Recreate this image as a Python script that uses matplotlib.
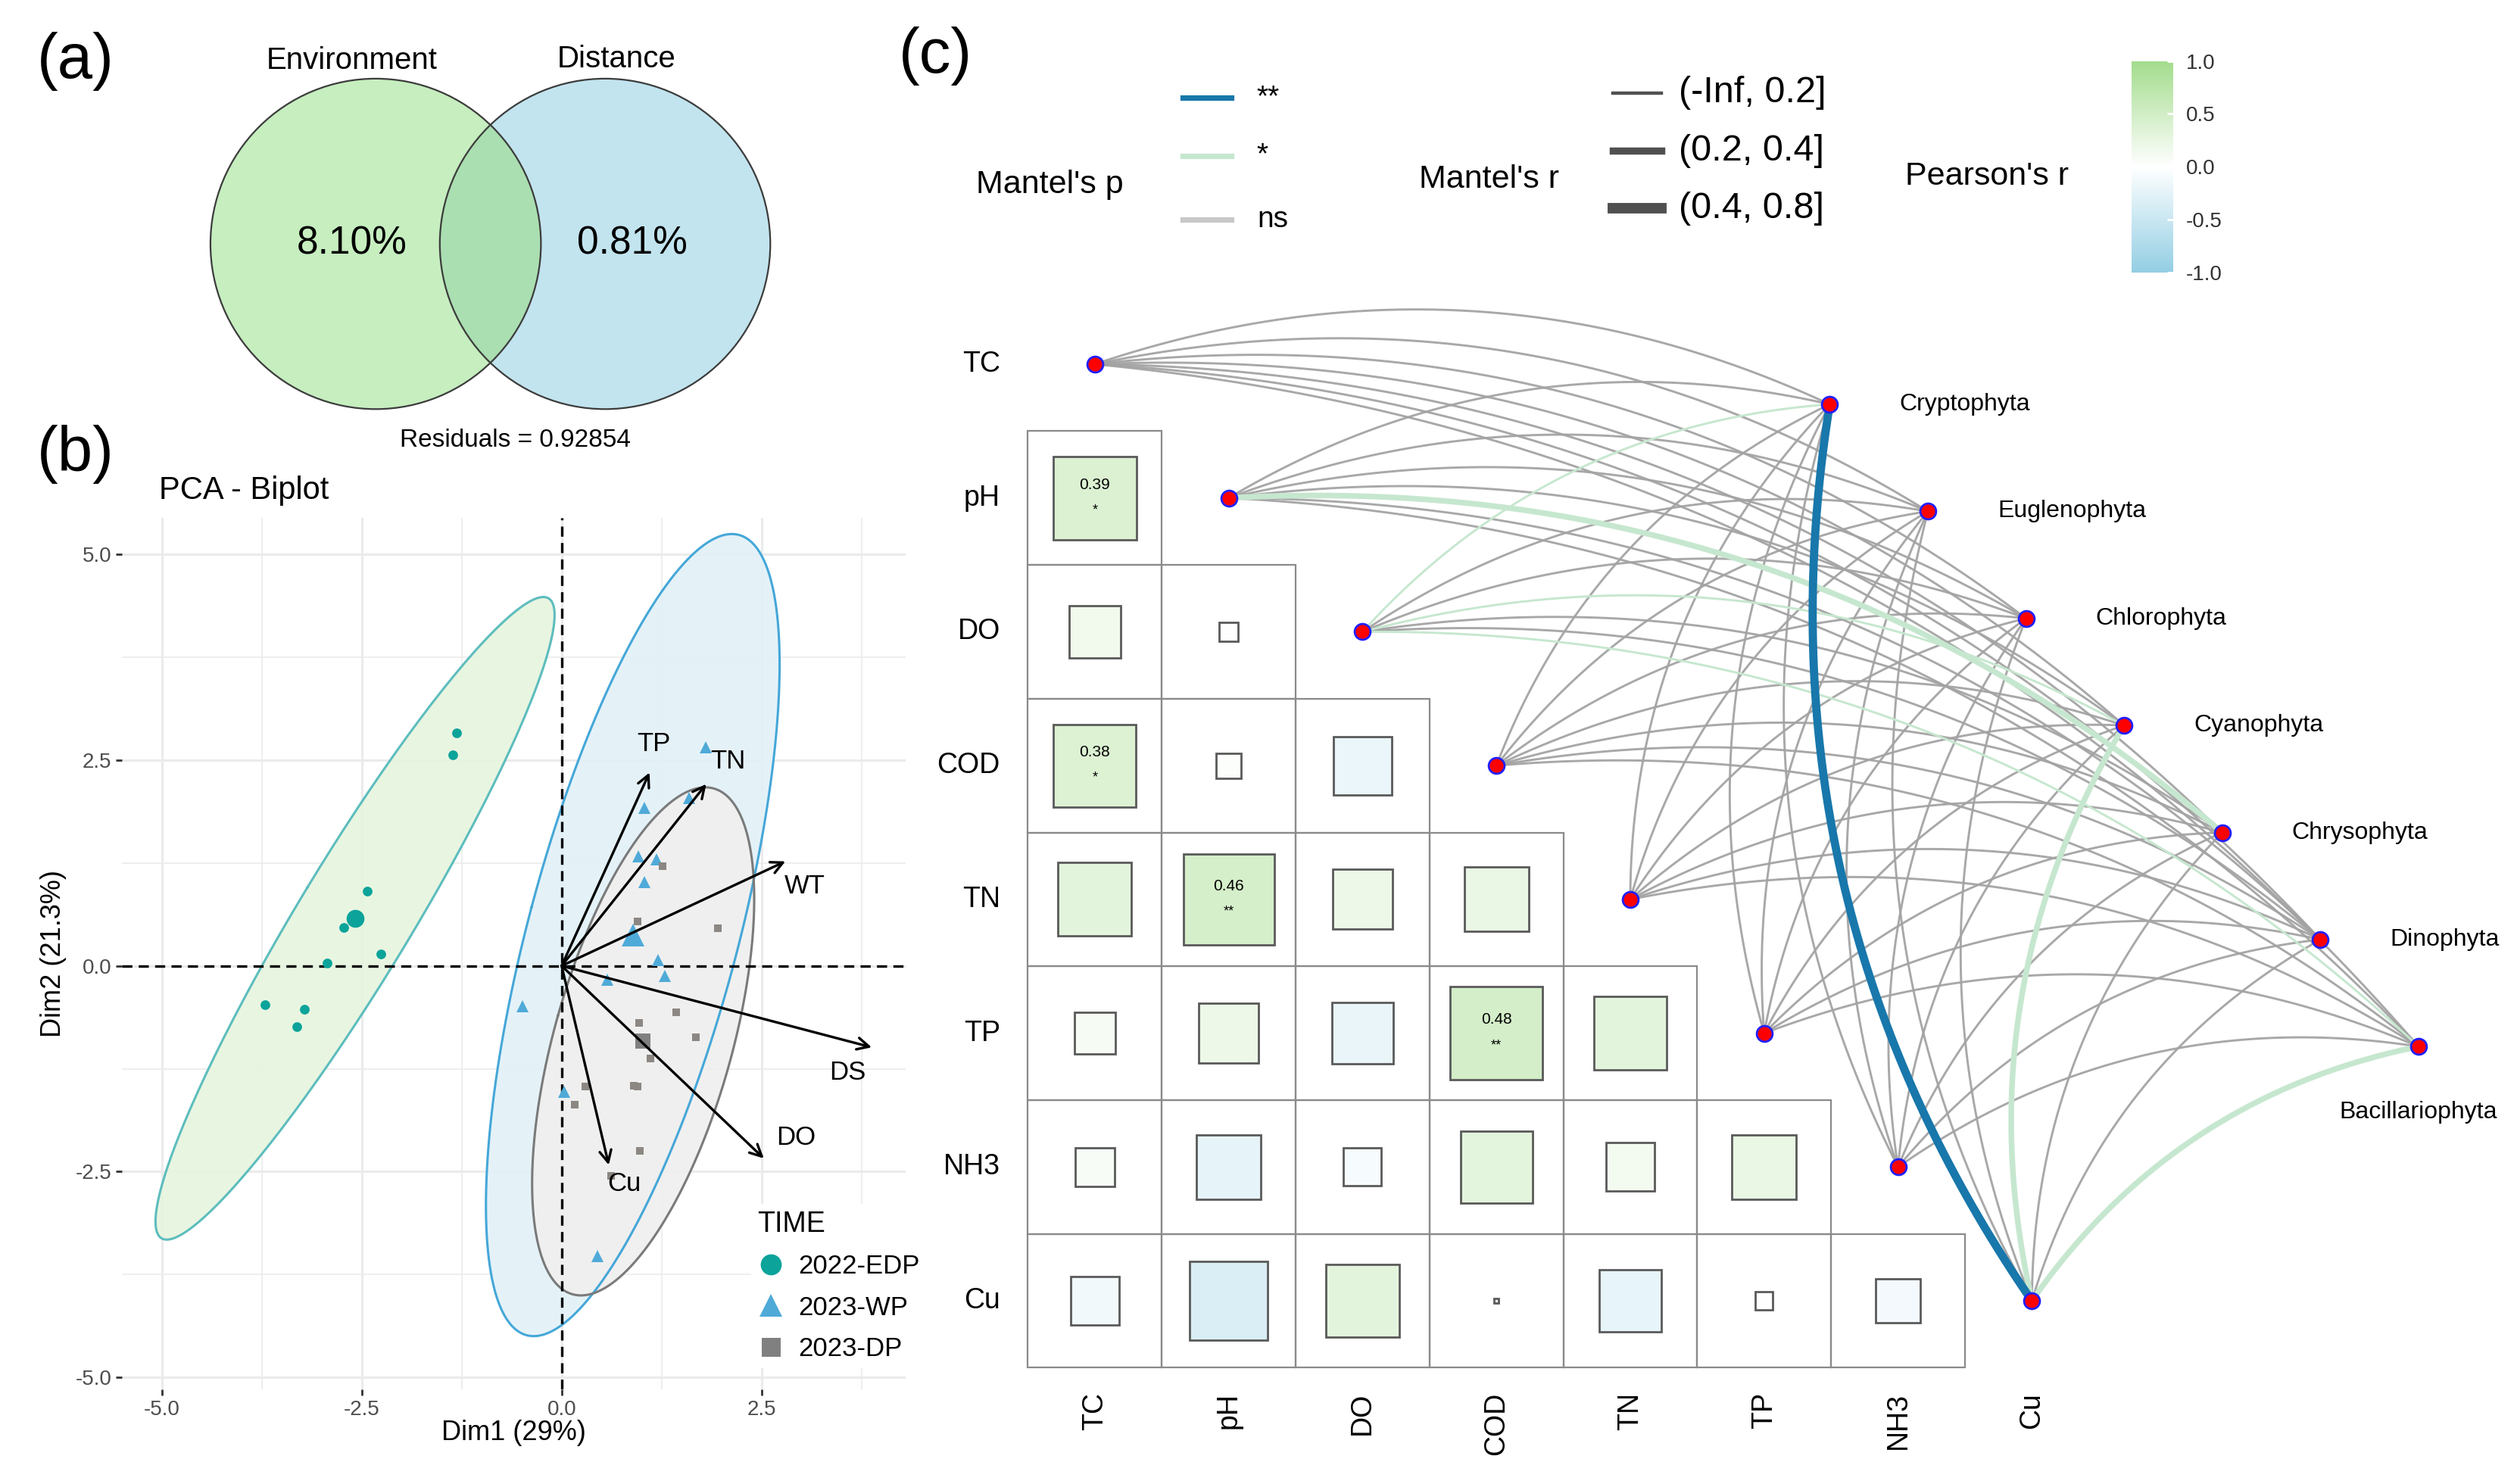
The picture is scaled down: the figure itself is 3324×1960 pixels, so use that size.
import numpy as np
import matplotlib
matplotlib.use("Agg")
import matplotlib.pyplot as plt
from matplotlib.patches import Circle, Rectangle
from matplotlib.lines import Line2D
from matplotlib.colors import LinearSegmentedColormap, Normalize
import matplotlib.cm as cm

plt.rcParams['font.family'] = ['Liberation Sans', 'DejaVu Sans']
plt.rcParams['axes.unicode_minus'] = False

# ------------------------------------------------------------------ data
venn_sets = ["Environment", "Distance"]
venn_values = ["8.10%", "0.81%"]
venn_residual = 0.92854

group_names = ["2022-EDP", "2023-WP", "2023-DP"]
edp_x = [-1.31, -1.36, -2.43, -2.73, -2.26, -2.93, -3.71, -3.22, -3.31]
edp_y = [2.83, 2.56, 0.91, 0.47, 0.14, 0.03, -0.47, -0.53, -0.74]
wp_x = [1.80, 1.04, 1.59, 0.96, 1.19, 1.04, 1.21, 1.29, 0.57, -0.49, 0.03, 0.45]
wp_y = [2.66, 1.92, 2.04, 1.33, 1.29, 1.02, 0.07, -0.12, -0.17, -0.49, -1.53, -3.53]
dp_x = [1.26, 0.95, 1.95, 1.43, 0.97, 1.68, 1.11, 0.30, 0.90, 0.95, 0.16, 0.98, 0.62]
dp_y = [1.21, 0.54, 0.46, -0.56, -0.69, -0.87, -1.13, -1.47, -1.46, -1.47, -1.69, -2.25, -2.55]

pca_vars = ["TP", "TN", "WT", "DS", "DO", "Cu"]
load_x = [1.10, 1.81, 2.80, 3.88, 2.53, 0.59]
load_y = [2.35, 2.21, 1.27, -0.99, -2.34, -2.42]

env_vars = ["TC", "pH", "DO", "COD", "TN", "TP", "NH3", "Cu"]
# lower triangle of Pearson's r (row i, columns 0..i-1)
pearson_r = [
    [],
    [0.39],
    [0.15, 0.02],
    [0.38, 0.035, -0.19],
    [0.30, 0.46, 0.20, 0.23],
    [0.095, 0.20, -0.21, 0.48, 0.30],
    [0.085, -0.23, -0.08, 0.29, 0.13, 0.23],
    [-0.13, -0.34, 0.30, 0.001, -0.22, 0.017, -0.11],
]
pearson_sig = [
    [],
    ["*"],
    ["", ""],
    ["*", "", ""],
    ["", "**", "", ""],
    ["", "", "", "**", ""],
    ["", "", "", "", "", ""],
    ["", "", "", "", "", "", ""],
]

species = ["Cryptophyta", "Euglenophyta", "Chlorophyta", "Cyanophyta",
           "Chrysophyta", "Dinophyta", "Bacillariophyta"]
#                TC    pH    DO   COD   TN    TP   NH3   Cu
mantel_p = [["ns", "ns", "*", "ns", "ns", "ns", "ns", "**"],
            ["ns", "ns", "ns", "ns", "ns", "ns", "ns", "ns"],
            ["ns", "ns", "ns", "ns", "ns", "ns", "ns", "ns"],
            ["ns", "ns", "*", "ns", "ns", "ns", "ns", "*"],
            ["ns", "*", "ns", "ns", "ns", "ns", "ns", "ns"],
            ["ns", "ns", "ns", "ns", "ns", "ns", "ns", "ns"],
            ["ns", "ns", "*", "ns", "ns", "ns", "ns", "*"]]
mantel_r = [[0, 0, 0, 0, 0, 0, 0, 2],
            [0, 0, 0, 0, 0, 0, 0, 0],
            [0, 0, 0, 0, 0, 0, 0, 0],
            [0, 0, 0, 0, 0, 0, 0, 1],
            [0, 1, 0, 0, 0, 0, 0, 0],
            [0, 0, 0, 0, 0, 0, 0, 0],
            [0, 0, 0, 0, 0, 0, 0, 1]]
p_levels = ["**", "*", "ns"]
r_levels = ["(-Inf, 0.2]", "(0.2, 0.4]", "(0.4, 0.8]"]
cbar_ticks = [1.0, 0.5, 0.0, -0.5, -1.0]

# ------------------------------------------------------------------ style
W, H = 1568.0, 925.0           # layout grid (reference pixels / 2.12)
def fx(x): return x / W
def fy(y): return 1 - y / H

p_colors = {"**": "#1877AB", "*": "#C6E7CF", "ns": "#A3A3A3"}
r_widths = [1.05, 2.7, 3.9]
leg_widths = [1.6, 3.4, 5.0]
cmap = LinearSegmentedColormap.from_list("pr", ["#93CEE3", "#FFFFFF", "#A3DC8C"])
norm = Normalize(-1, 1)

fig = plt.figure(figsize=(16.62, 9.8), dpi=200)

# ------------------------------------------------------------------ (a) Venn
ax_a = fig.add_axes([fx(100), fy(300), 440 / W, 300 / H])
ax_a.set_xlim(-1.301, 2.971)
ax_a.set_ylim(-1.437, 1.476)
ax_a.set_aspect("equal")
ax_a.axis("off")
c_dist = 1.388
cl = Circle((0, 0), 1, facecolor="#C6EEBF", edgecolor="none")
cr = Circle((c_dist, 0), 1, facecolor="#C2E4EF", edgecolor="none")
ax_a.add_patch(cl)
ax_a.add_patch(cr)
clip_c = Circle((c_dist, 0), 1, transform=ax_a.transData)
ov = Circle((0, 0), 1, facecolor="#AADFB1", edgecolor="none")
ax_a.add_patch(ov)
ov.set_clip_path(clip_c)
for cx in (0, c_dist):
    ax_a.add_patch(Circle((cx, 0), 1, facecolor="none", edgecolor="#3C3C3C", lw=0.8))
ax_a.text(-0.146, 1.11, venn_sets[0], ha="center", va="center", fontsize=14.5)
ax_a.text(1.456, 1.12, venn_sets[1], ha="center", va="center", fontsize=14.5)
ax_a.text(-0.146, 0.0, venn_values[0], ha="center", va="center", fontsize=18.5)
ax_a.text(1.553, 0.0, venn_values[1], ha="center", va="center", fontsize=18.5)
ax_a.text(0.845, -1.19, "Residuals = %.5f" % venn_residual, ha="center", va="center", fontsize=12)

fig.text(fx(47), fy(38), "(a)", ha="center", va="center", fontsize=30)
fig.text(fx(47), fy(283), "(b)", ha="center", va="center", fontsize=30)
fig.text(fx(583), fy(35), "(c)", ha="center", va="center", fontsize=30)

# ------------------------------------------------------------------ (b) PCA
ax_b = fig.add_axes([fx(76), fy(866), 488 / W, 543 / H])
ax_b.set_xlim(-5.50, 4.30)
ax_b.set_ylim(-5.146, 5.44)
for s in ax_b.spines.values():
    s.set_visible(False)
ax_b.set_xticks([-5.0, -2.5, 0.0, 2.5])
ax_b.set_xticklabels(["-5.0", "-2.5", "0.0", "2.5"])
ax_b.set_yticks([-5.0, -2.5, 0.0, 2.5, 5.0])
ax_b.set_yticklabels(["-5.0", "-2.5", "0.0", "2.5", "5.0"])
ax_b.set_xticks([-3.75, -1.25, 1.25, 3.75], minor=True)
ax_b.set_yticks([-3.75, -1.25, 1.25, 3.75], minor=True)
ax_b.tick_params(which="major", length=3, width=1.0, color="#333333",
                 labelsize=10, labelcolor="#4D4D4D", pad=2)
ax_b.tick_params(which="minor", length=0)
ax_b.grid(which="major", color="#EBEBEB", lw=1.1, zorder=0)
ax_b.grid(which="minor", color="#EBEBEB", lw=0.6, zorder=0)
ax_b.set_axisbelow(True)

def ellipse_pts(x, y, level=0.95, n=200):
    x = np.asarray(x); y = np.asarray(y)
    m = len(x)
    d2 = m - 1
    qf = (d2 / 2.0) * ((1 - level) ** (-2.0 / d2) - 1)
    rad = np.sqrt(2 * qf)
    cov = np.cov(x, y)
    vals, vecs = np.linalg.eigh(cov)
    t = np.linspace(0, 2 * np.pi, n)
    circ = np.vstack([np.cos(t), np.sin(t)])
    pts = vecs @ (np.sqrt(vals)[:, None] * circ) * rad
    return x.mean() + pts[0], y.mean() + pts[1]

groups = [(edp_x, edp_y, "o", "#0BA39A", "#E6F5DF", "#5DBDBD", 4.6, 8.5),
          (wp_x, wp_y, "^", "#4FAAD8", "#E2F1F8", "#45A7D8", 6.0, 11.0),
          (dp_x, dp_y, "s", "#8C8782", "#F0EFEF", "#7A7A7A", 3.8, 7.5)]
ell = [ellipse_pts(g[0], g[1]) for g in groups]
for (ex, ey), g in zip(ell, groups):
    ax_b.fill(ex, ey, color=g[4], alpha=0.92, lw=0, zorder=1)
for (ex, ey), g in zip(ell, groups):
    ax_b.plot(ex, ey, color=g[5], lw=1.1, zorder=2)

ax_b.axhline(0, color="black", lw=1.2, ls=(0, (4, 2.5)), zorder=3)
ax_b.axvline(0, color="black", lw=1.2, ls=(0, (4, 2.5)), zorder=3)

for g in groups:
    ax_b.plot(g[0], g[1], ls="none", marker=g[2], color=g[3], ms=g[6], mew=0, zorder=4)
    ax_b.plot([np.mean(g[0])], [np.mean(g[1])], ls="none", marker=g[2],
              color=g[3] if g[2] != "s" else "#808080", ms=g[7], mew=0, zorder=4)

label_offsets = {"TP": (0.05, 0.35), "TN": (0.27, 0.28), "WT": (0.24, -0.30),
                 "DS": (-0.30, -0.31), "DO": (0.40, 0.25), "Cu": (0.19, -0.23)}
for v, lx, ly in zip(pca_vars, load_x, load_y):
    ax_b.annotate("", xy=(lx, ly), xytext=(0, 0),
                  arrowprops=dict(arrowstyle="->", color="black", lw=1.2,
                                  mutation_scale=14, shrinkA=0, shrinkB=0),
                  zorder=5)
    ox, oy = label_offsets[v]
    ax_b.text(lx + ox, ly + oy, v, ha="center", va="center", fontsize=12.5, zorder=6)

ax_b.text(0.5, -0.05, "Dim1 (29%)", transform=ax_b.transAxes, ha="center", va="center", fontsize=13)
ax_b.text(-0.088, 0.5, "Dim2 (21.3%)", transform=ax_b.transAxes, ha="center", va="center",
          rotation=90, fontsize=13)
fig.text(fx(99), fy(306), "PCA - Biplot", ha="left", va="center", fontsize=15)

handles = [Line2D([], [], ls="none", marker=g[2], color=(g[3] if g[2] != "s" else "#808080"),
                  ms=ms, mew=0) for g, ms in zip(groups, [10, 11, 9])]
leg = ax_b.legend(handles, group_names, title="TIME", loc="upper left",
                  bbox_to_anchor=(0.803, 0.213), frameon=True, facecolor="white",
                  edgecolor="none", framealpha=1, fontsize=12.5, title_fontsize=13.5,
                  handlelength=1.0, handletextpad=0.55, labelspacing=0.62,
                  borderpad=0.25, alignment="left", borderaxespad=0)
leg.set_zorder(7)

# ------------------------------------------------------------------ (c) Mantel network + correlogram
u = 83.4
ax_c = fig.add_axes([fx(560), 0, 1008 / W, 1])
ax_c.set_xlim((560 - 682) / u, (1568 - 682) / u)
ax_c.set_ylim(-(925 - 227) / u, 227 / u)
ax_c.axis("off")
ax_c.patch.set_alpha(0)

n_env = len(env_vars)
for i in range(n_env):
    for j in range(i):
        r = pearson_r[i][j]
        ax_c.add_patch(Rectangle((j - 0.5, -i - 0.5), 1, 1, facecolor="none",
                                 edgecolor="#8A8A8A", lw=0.8, zorder=1))
        side = np.sqrt(abs(r))
        ax_c.add_patch(Rectangle((j - side / 2, -i - side / 2), side, side,
                                 facecolor=cmap(norm(r)), edgecolor="#5A5A5A",
                                 lw=1.0, zorder=2))
        if pearson_sig[i][j]:
            ax_c.text(j, -i + 0.10, "%.2f" % r, ha="center", va="center", fontsize=7.5, zorder=3)
            ax_c.text(j, -i - 0.09, pearson_sig[i][j], ha="center", va="center", fontsize=6.5, zorder=3)

for i, name in enumerate(env_vars):
    ax_c.text(-0.707, -i, name, ha="right", va="center", fontsize=13.5)
    ax_c.text(i, -7.686, name, ha="center", va="top", rotation=90, fontsize=13.5)

sp_start = np.array([5.49, -0.30])
sp_step = np.array([0.733, -0.80])
sp_pos = [sp_start + k * sp_step for k in range(len(species))]
env_pos = [np.array([j, -j], float) for j in range(n_env)]

def curve(p0, p1, frac=0.1, n=80):
    d = p1 - p0
    L = np.hypot(d[0], d[1])
    nrm = np.array([-d[1], d[0]]) / L
    ctrl = (p0 + p1) / 2 + 2 * frac * L * nrm
    t = np.linspace(0, 1, n)[:, None]
    return (1 - t) ** 2 * p0 + 2 * (1 - t) * t * ctrl + t ** 2 * p1

order = {"ns": 0, "*": 1, "**": 2}
links = []
for si in range(len(species)):
    for ej in range(n_env):
        links.append((order[mantel_p[si][ej]], si, ej))
links.sort()
for _, si, ej in links:
    pc = mantel_p[si][ej]
    pts = curve(env_pos[ej], sp_pos[si])
    ax_c.plot(pts[:, 0], pts[:, 1], color=p_colors[pc], lw=r_widths[mantel_r[si][ej]],
              solid_capstyle="round", zorder=4 + order[pc], alpha=0.95 if pc == "ns" else 1)

for p in env_pos + sp_pos:
    ax_c.plot([p[0]], [p[1]], "o", ms=7.5, mfc="#FF0000", mec="#2020FF", mew=1.0, zorder=10)

for k, (name, p) in enumerate(zip(species, sp_pos)):
    if k == len(species) - 1:
        ax_c.text(p[0], p[1] - 0.49, name, ha="center", va="center", fontsize=11.5)
    else:
        ax_c.text(p[0] + 0.52, p[1], name, ha="left", va="center", fontsize=11.5)

# legends of (c)
fig.text(fx(608), fy(115), "Mantel's p", ha="left", va="center", fontsize=15.5)
for lev, yy in zip(p_levels, [61, 97, 137]):
    fig.add_artist(Line2D([fx(737), fx(767)], [fy(yy), fy(yy)], color=p_colors[lev] if lev != "ns" else "#C8C8C8",
                          lw=2.6, transform=fig.transFigure))
    fig.text(fx(783), fy(yy), lev, ha="left", va="center", fontsize=14)
fig.text(fx(884), fy(112), "Mantel's r", ha="left", va="center", fontsize=15.5)
for lev, yy, lw in zip(r_levels, [58, 94, 130], leg_widths):
    fig.add_artist(Line2D([fx(1005), fx(1035)], [fy(yy), fy(yy)], color="#505050",
                          lw=lw, transform=fig.transFigure))
    fig.text(fx(1046), fy(yy), lev, ha="left", va="center", fontsize=17.5)
fig.text(fx(1187), fy(110), "Pearson's r", ha="left", va="center", fontsize=15.5)

cax = fig.add_axes([fx(1328), fy(170), 26 / W, 132 / H])
sm = cm.ScalarMappable(norm=norm, cmap=cmap)
cb = fig.colorbar(sm, cax=cax)
cb.outline.set_visible(False)
cb.set_ticks(cbar_ticks)
cb.set_ticklabels(["%.1f" % t for t in cbar_ticks])
cax.tick_params(axis="y", direction="in", color="white", length=3, width=1,
                labelsize=10, labelcolor="#333333", pad=6)

fig.savefig("out.png", dpi=200, facecolor="white")
